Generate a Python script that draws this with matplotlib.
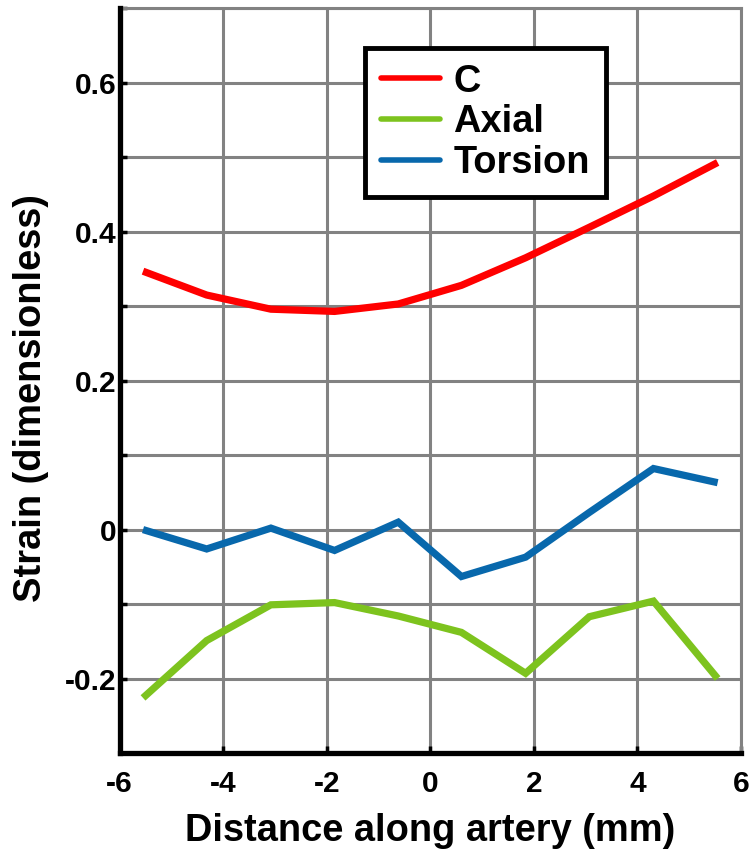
import matplotlib
matplotlib.use("Agg")
import matplotlib.pyplot as plt
from matplotlib.ticker import FixedLocator, FixedFormatter

plt.rcParams['font.family'] = ['Liberation Sans', 'DejaVu Sans']
plt.rcParams['font.weight'] = 'bold'

# Data
distance = [-5.55, -4.32, -3.08, -1.85, -0.62, 0.60, 1.84, 3.07, 4.31, 5.55]
strain_c = [0.347, 0.315, 0.296, 0.293, 0.303, 0.328, 0.365, 0.406, 0.448, 0.493]
strain_axial = [-0.226, -0.149, -0.101, -0.098, -0.116, -0.138, -0.193, -0.117, -0.096, -0.200]
strain_torsion = [0.000, -0.026, 0.002, -0.028, 0.010, -0.063, -0.037, 0.023, 0.082, 0.063]
series_names = ["C", "Axial", "Torsion"]
x_ticks = [-6, -4, -2, 0, 2, 4, 6]
x_ticklabels = ["-6", "-4", "-2", "0", "2", "4", "6"]
y_ticks = [-0.3, -0.2, -0.1, 0.0, 0.1, 0.2, 0.3, 0.4, 0.5, 0.6, 0.7]
y_ticklabels = ["", "-0.2", "", "0", "", "0.2", "", "0.4", "", "0.6", ""]

colors = ["#ff0000", "#7dc31e", "#0868ac"]

fig = plt.figure(figsize=(7.53, 8.52), dpi=100)
ax = fig.add_axes([0.159, 0.1162, 0.825, 0.874])

for ys, name, col in zip([strain_c, strain_axial, strain_torsion], series_names, colors):
    ax.plot(distance, ys, color=col, lw=5.2, label=name,
            solid_capstyle='butt', solid_joinstyle='miter', zorder=3)

ax.set_xlim(-6, 6)
ax.set_ylim(-0.3, 0.7)
ax.xaxis.set_major_locator(FixedLocator(x_ticks))
ax.xaxis.set_major_formatter(FixedFormatter(x_ticklabels))
ax.yaxis.set_major_locator(FixedLocator(y_ticks))
ax.yaxis.set_major_formatter(FixedFormatter(y_ticklabels))

ax.grid(True, color='#828282', lw=2.2, zorder=0)
ax.set_axisbelow(True)

for s in ['left', 'bottom']:
    ax.spines[s].set_linewidth(3.8)
    ax.spines[s].set_color('black')
    ax.spines[s].set_zorder(4)
for s in ['top', 'right']:
    ax.spines[s].set_linewidth(2.2)
    ax.spines[s].set_color('#828282')

ax.tick_params(axis='both', direction='in', length=5, width=2.5, color='black',
               labelsize=21.5, top=False, right=False)
ax.tick_params(axis='y', pad=2)
ax.tick_params(axis='x', pad=12)
for lab in ax.get_xticklabels() + ax.get_yticklabels():
    lab.set_fontweight('bold')

ax.set_xlabel("Distance along artery (mm)", fontsize=27.4, fontweight='bold', labelpad=11)
ax.set_ylabel("Strain (dimensionless)", fontsize=27.4, fontweight='bold')
ax.yaxis.set_label_coords(-0.114, 0.477)

leg = ax.legend(loc='upper left', bbox_to_anchor=(0.395, 0.947), fontsize=27.4,
                frameon=True, fancybox=False, handlelength=1.55, handletextpad=0.35,
                borderpad=0.42, labelspacing=0.12, borderaxespad=0)
leg.get_frame().set_edgecolor('black')
leg.get_frame().set_linewidth(3.5)
leg.get_frame().set_alpha(1)
for t in leg.get_texts():
    t.set_fontweight('bold')
for h in leg.get_lines():
    h.set_solid_capstyle('round')
    h.set_linewidth(4)

fig.savefig("out.png", dpi=100)
